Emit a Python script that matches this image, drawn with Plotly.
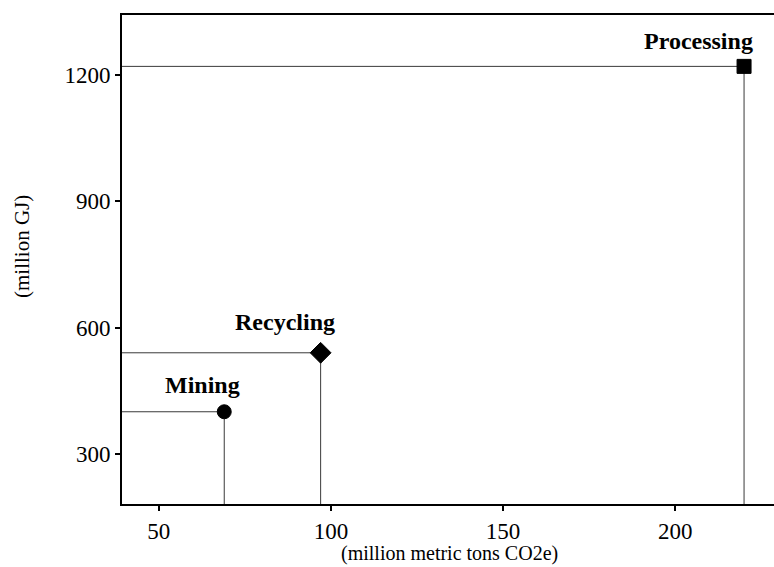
import plotly.graph_objects as go

# Emissions vs. energy for each stage
stages = ["Mining", "Recycling", "Processing"]
emissions = [69, 97, 220]        # million metric tons CO2e
energy = [400, 540, 1220]        # million GJ
symbols = ["circle", "diamond", "square"]
marker_sizes = [14, 16, 14]
label_shift = [(-22, 27), (-36, 31), (-46, 25)]

x_ticks = [50, 100, 150, 200]
y_ticks = [300, 600, 900, 1200]
x_range = [39.3, 228.7]
y_range = [181, 1342]

x_title = "(million metric tons CO2e)"
y_title = "(million GJ)"

FONT = "Liberation Serif, Times New Roman, serif"
LINE = "#3a3a3a"

fig = go.Figure()

for name, xv, yv in zip(stages, emissions, energy):
    # drop line to the y-axis
    fig.add_trace(go.Scatter(x=[x_range[0], xv], y=[yv, yv], mode="lines",
                             line=dict(color=LINE, width=1), hoverinfo="skip",
                             showlegend=False))
    # drop line to the x-axis
    fig.add_trace(go.Scatter(x=[xv, xv], y=[y_range[0], yv], mode="lines",
                             line=dict(color=LINE, width=1), hoverinfo="skip",
                             showlegend=False))

fig.add_trace(go.Scatter(
    x=emissions, y=energy, mode="markers", text=stages,
    marker=dict(symbol=symbols, size=marker_sizes, color="#000000",
                opacity=1, line=dict(color="#000000", width=1)),
    opacity=1, showlegend=False, cliponaxis=False))

for name, xv, yv, (dx, dy) in zip(stages, emissions, energy, label_shift):
    fig.add_annotation(x=xv, y=yv, text=f"<b>{name}</b>", showarrow=False,
                       xshift=dx, yshift=dy,
                       font=dict(family=FONT, size=24, color="black"))

# axis titles placed as paper annotations for precise positioning
fig.add_annotation(xref="paper", yref="paper", x=0.503, y=-0.101,
                   xanchor="center", yanchor="middle", showarrow=False,
                   text=x_title, font=dict(family=FONT, size=20, color="black"))
fig.add_annotation(xref="paper", yref="paper", x=-0.153, y=0.526,
                   xanchor="center", yanchor="middle", showarrow=False,
                   textangle=-90, text=y_title,
                   font=dict(family=FONT, size=21, color="black"))

axis_common = dict(showgrid=False, zeroline=False, showline=True,
                   linecolor="black", linewidth=2, ticks="outside",
                   ticklen=5, tickwidth=2, tickcolor="black",
                   tickfont=dict(family=FONT, size=23, color="black"))

fig.update_xaxes(range=x_range, tickvals=x_ticks, mirror=True, **axis_common)
fig.update_yaxes(range=y_range, tickvals=y_ticks, **axis_common)

fig.update_layout(width=774, height=567,
                  margin=dict(l=122, r=0, t=15, b=63),
                  paper_bgcolor="white", plot_bgcolor="white")

fig.write_html("out.html")
